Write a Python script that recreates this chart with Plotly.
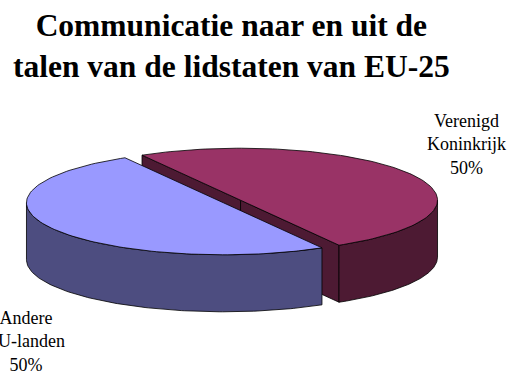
import numpy as np
import plotly.graph_objects as go

# Slice data
labels = ["Verenigd Koninkrijk", "Andere EU-landen"]
label_text = ["Verenigd<br>Koninkrijk", "Andere<br>EU-landen"]
values = [50, 50]
top_colors = ["#993366", "#9999FF"]
side_colors = ["#4D1A33", "#4D4D80"]

title_text = "Communicatie naar en uit de<br>talen van de lidstaten van EU-25"

# 3-D pie geometry in page pixels
CX, CY = 232.0, 201.5      # centre of the top ellipse
RX, RY = 197.0, 52.0       # ellipse semi-axes
DEPTH = 57.0               # thickness of the pie
EXPLODE = 0.05             # radial offset as fraction of radius
START_ANGLE = 120.0        # degrees, first slice runs clockwise from here

W, H = 512, 374

total = float(sum(values))


def pt(cx, cy, t_deg):
    t = np.radians(t_deg)
    return cx + RX * np.cos(t), cy - RY * np.sin(t)


def arc(cx, cy, t0, t1, dz=0.0, n=120):
    ts = np.linspace(t0, t1, n)
    xs = cx + RX * np.cos(np.radians(ts))
    ys = cy - RY * np.sin(np.radians(ts)) + dz
    return list(xs), list(ys)


# Slice spans (counter-clockwise from s to e); slices laid out clockwise from the start angle
slices = []
ang = START_ANGLE
for i, v in enumerate(values):
    sweep = 360.0 * v / total
    e = ang
    s = ang - sweep
    mid = (s + e) / 2.0
    ox = EXPLODE * RX * np.cos(np.radians(mid))
    oy = -EXPLODE * RY * np.sin(np.radians(mid))
    slices.append(dict(i=i, s=s, e=e, mid=mid, cx=CX + ox, cy=CY + oy))
    ang = s

# back slices first
order = sorted(slices, key=lambda d: -np.sin(np.radians(d["mid"])))

fig = go.Figure()
LINE = dict(color="#000000", width=0.8)


def poly(xs, ys, color):
    fig.add_trace(go.Scatter(
        x=xs + [xs[0]], y=ys + [ys[0]], mode="lines", fill="toself",
        fillcolor=color, line=LINE, hoverinfo="skip", showlegend=False))


for d in order:
    i, s, e, cx, cy = d["i"], d["s"], d["e"], d["cx"], d["cy"]
    side = side_colors[i]
    # radial cut faces that face the viewer
    for t, nrm in ((s, s - 90.0), (e, e + 90.0)):
        if np.sin(np.radians(nrm)) < 0:
            px, py = pt(cx, cy, t)
            poly([cx, px, px, cx], [cy, py, py + DEPTH, cy + DEPTH], side)
    # outer wall on the front half of the ellipse
    for k in range(-1, 2):
        a0, a1 = 180.0 + 360.0 * k, 360.0 + 360.0 * k
        r0, r1 = max(s, a0), min(e, a1)
        if r1 > r0:
            tx, ty = arc(cx, cy, r0, r1)
            bx, by = arc(cx, cy, r1, r0, DEPTH)
            poly(tx + bx, ty + by, side)
    # top face
    ax, ay = arc(cx, cy, s, e)
    poly([cx] + ax, [cy] + ay, top_colors[i])

FONT = "Liberation Serif"

annotations = [
    dict(x=231, y=46, xref="x", yref="y", text="<b>" + title_text + "</b>",
         showarrow=False, font=dict(family=FONT, size=31.5, color="#000000"),
         xanchor="center", yanchor="middle", align="center"),
]
label_pos = [(466, 144), (26, 341)]
for i, v in enumerate(values):
    pct = f"{round(100 * v / total)}%"
    annotations.append(dict(
        x=label_pos[i][0], y=label_pos[i][1], xref="x", yref="y",
        text=label_text[i] + "<br>" + pct, showarrow=False,
        font=dict(family=FONT, size=18, color="#000000"),
        xanchor="center", yanchor="middle", align="center"))

fig.update_layout(
    width=W, height=H,
    margin=dict(l=0, r=0, t=0, b=0),
    paper_bgcolor="#FFFFFF", plot_bgcolor="#FFFFFF",
    xaxis=dict(range=[0, W], visible=False, fixedrange=True),
    yaxis=dict(range=[H, 0], visible=False, fixedrange=True),
    annotations=annotations,
    showlegend=False,
)

fig.write_html("out.html")
